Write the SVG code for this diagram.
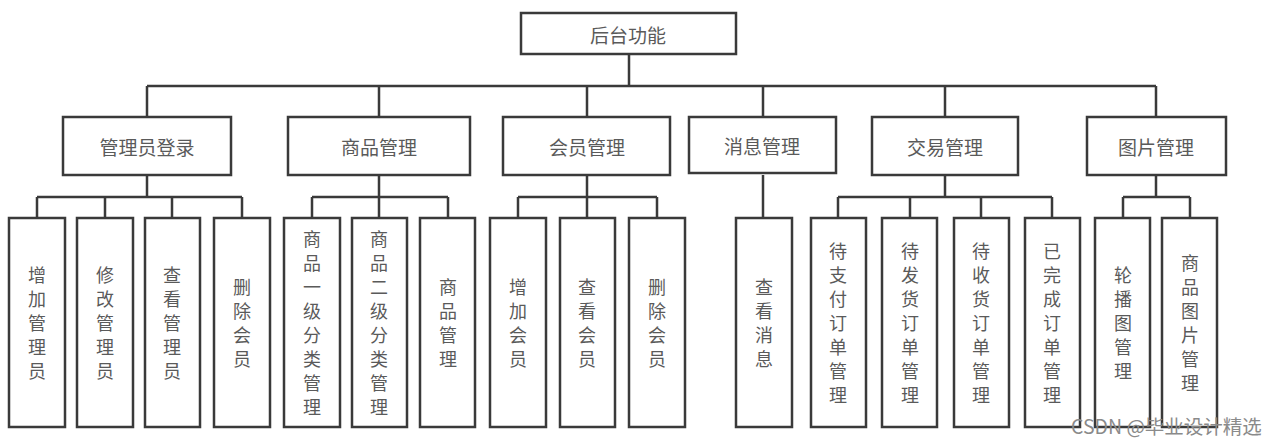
<svg xmlns="http://www.w3.org/2000/svg" width="1278" height="444" viewBox="0 0 1278 444">
<style>
.box{fill:#fff;stroke:#3a3a3a;stroke-width:2.5}
.lbl{font-family:"Noto Sans CJK SC","Noto Sans",sans-serif;font-size:18px;fill:#5a5a5a;text-anchor:middle;dominant-baseline:central}
.h{font-size:19px}
.con{fill:none;stroke:#3a3a3a;stroke-width:2.5}
.wm{font-family:"Noto Sans CJK SC","Liberation Sans",sans-serif;font-size:19.5px;fill:#8a8a8a}
</style>
<rect width="1278" height="444" fill="#fff"/>
<g id="connectors" class="con">
<path d="M629 54V86M147 86H1156M147 86V117M379 86V117M587 86V117M763 86V117M945 86V117M1156 86V117"/>
<path d="M147 175V197M37 197H242M37 197V218M105 197V218M172 197V218M242 197V218"/>
<path d="M379 175V197M312 197H448M312 197V218M379 197V218M448 197V218"/>
<path d="M587 175V197M518 197H657M518 197V218M587 197V218M657 197V218"/>
<path d="M763 175V218"/>
<path d="M945 175V197M838 197H1052M838 197V218M910 197V218M981 197V218M1052 197V218"/>
<path d="M1156 175V197M1123 197H1190M1123 197V218M1190 197V218"/>
</g>
<g id="root"><rect class="box" x="521" y="13" width="215" height="41"/><text class="lbl h" x="628" y="34">后台功能</text></g>
<g id="n-admin"><rect class="box" x="63" y="117" width="168" height="58"/><text class="lbl h" x="147" y="146">管理员登录</text></g>
<g id="n-goods"><rect class="box" x="288" y="117" width="182" height="58"/><text class="lbl h" x="379" y="146">商品管理</text></g>
<g id="n-member"><rect class="box" x="503" y="117" width="167" height="58"/><text class="lbl h" x="587" y="146">会员管理</text></g>
<g id="n-msg"><rect class="box" x="689" y="117" width="147" height="56"/><text class="lbl h" x="762" y="145">消息管理</text></g>
<g id="n-trade"><rect class="box" x="872" y="117" width="146" height="58"/><text class="lbl h" x="945" y="146">交易管理</text></g>
<g id="n-pic"><rect class="box" x="1087" y="117" width="139" height="58"/><text class="lbl h" x="1156" y="146">图片管理</text></g>

<g id="c1"><rect class="box" x="9" y="218" width="56" height="209"/><text class="lbl"><tspan x="37" y="274">增</tspan><tspan x="37" y="298">加</tspan><tspan x="37" y="322">管</tspan><tspan x="37" y="346">理</tspan><tspan x="37" y="370">员</tspan></text></g>
<g id="c2"><rect class="box" x="77" y="218" width="56" height="209"/><text class="lbl"><tspan x="105" y="274">修</tspan><tspan x="105" y="298">改</tspan><tspan x="105" y="322">管</tspan><tspan x="105" y="346">理</tspan><tspan x="105" y="370">员</tspan></text></g>
<g id="c3"><rect class="box" x="145" y="218" width="55" height="209"/><text class="lbl"><tspan x="172" y="274">查</tspan><tspan x="172" y="298">看</tspan><tspan x="172" y="322">管</tspan><tspan x="172" y="346">理</tspan><tspan x="172" y="370">员</tspan></text></g>
<g id="c4"><rect class="box" x="214" y="218" width="56" height="209"/><text class="lbl"><tspan x="242" y="286">删</tspan><tspan x="242" y="310">除</tspan><tspan x="242" y="334">会</tspan><tspan x="242" y="358">员</tspan></text></g>
<g id="c5"><rect class="box" x="284" y="218" width="56" height="209"/><text class="lbl"><tspan x="312" y="238">商</tspan><tspan x="312" y="262">品</tspan><tspan x="312" y="286">一</tspan><tspan x="312" y="310">级</tspan><tspan x="312" y="334">分</tspan><tspan x="312" y="358">类</tspan><tspan x="312" y="382">管</tspan><tspan x="312" y="406">理</tspan></text></g>
<g id="c6"><rect class="box" x="352" y="218" width="55" height="209"/><text class="lbl"><tspan x="379" y="238">商</tspan><tspan x="379" y="262">品</tspan><tspan x="379" y="286">二</tspan><tspan x="379" y="310">级</tspan><tspan x="379" y="334">分</tspan><tspan x="379" y="358">类</tspan><tspan x="379" y="382">管</tspan><tspan x="379" y="406">理</tspan></text></g>
<g id="c7"><rect class="box" x="420" y="218" width="55" height="209"/><text class="lbl"><tspan x="448" y="286">商</tspan><tspan x="448" y="310">品</tspan><tspan x="448" y="334">管</tspan><tspan x="448" y="358">理</tspan></text></g>
<g id="c8"><rect class="box" x="490" y="218" width="56" height="209"/><text class="lbl"><tspan x="518" y="286">增</tspan><tspan x="518" y="310">加</tspan><tspan x="518" y="334">会</tspan><tspan x="518" y="358">员</tspan></text></g>
<g id="c9"><rect class="box" x="560" y="218" width="55" height="209"/><text class="lbl"><tspan x="587" y="286">查</tspan><tspan x="587" y="310">看</tspan><tspan x="587" y="334">会</tspan><tspan x="587" y="358">员</tspan></text></g>
<g id="c10"><rect class="box" x="629" y="218" width="56" height="209"/><text class="lbl"><tspan x="657" y="286">删</tspan><tspan x="657" y="310">除</tspan><tspan x="657" y="334">会</tspan><tspan x="657" y="358">员</tspan></text></g>
<g id="c11"><rect class="box" x="736" y="218" width="56" height="209"/><text class="lbl"><tspan x="764" y="286">查</tspan><tspan x="764" y="310">看</tspan><tspan x="764" y="334">消</tspan><tspan x="764" y="358">息</tspan></text></g>
<g id="c12"><rect class="box" x="811" y="218" width="55" height="209"/><text class="lbl"><tspan x="838" y="250">待</tspan><tspan x="838" y="274">支</tspan><tspan x="838" y="298">付</tspan><tspan x="838" y="322">订</tspan><tspan x="838" y="346">单</tspan><tspan x="838" y="370">管</tspan><tspan x="838" y="394">理</tspan></text></g>
<g id="c13"><rect class="box" x="882" y="218" width="55" height="209"/><text class="lbl"><tspan x="910" y="250">待</tspan><tspan x="910" y="274">发</tspan><tspan x="910" y="298">货</tspan><tspan x="910" y="322">订</tspan><tspan x="910" y="346">单</tspan><tspan x="910" y="370">管</tspan><tspan x="910" y="394">理</tspan></text></g>
<g id="c14"><rect class="box" x="954" y="218" width="55" height="209"/><text class="lbl"><tspan x="981" y="250">待</tspan><tspan x="981" y="274">收</tspan><tspan x="981" y="298">货</tspan><tspan x="981" y="322">订</tspan><tspan x="981" y="346">单</tspan><tspan x="981" y="370">管</tspan><tspan x="981" y="394">理</tspan></text></g>
<g id="c15"><rect class="box" x="1025" y="218" width="55" height="209"/><text class="lbl"><tspan x="1052" y="250">已</tspan><tspan x="1052" y="274">完</tspan><tspan x="1052" y="298">成</tspan><tspan x="1052" y="322">订</tspan><tspan x="1052" y="346">单</tspan><tspan x="1052" y="370">管</tspan><tspan x="1052" y="394">理</tspan></text></g>
<g id="c16"><rect class="box" x="1095" y="218" width="55" height="209"/><text class="lbl"><tspan x="1123" y="274">轮</tspan><tspan x="1123" y="298">播</tspan><tspan x="1123" y="322">图</tspan><tspan x="1123" y="346">管</tspan><tspan x="1123" y="370">理</tspan></text></g>
<g id="c17"><rect class="box" x="1162" y="218" width="55" height="209"/><text class="lbl"><tspan x="1190" y="262">商</tspan><tspan x="1190" y="286">品</tspan><tspan x="1190" y="310">图</tspan><tspan x="1190" y="334">片</tspan><tspan x="1190" y="358">管</tspan><tspan x="1190" y="382">理</tspan></text></g>
<text class="wm" x="1071" y="434">CSDN @毕业设计精选</text>
</svg>
